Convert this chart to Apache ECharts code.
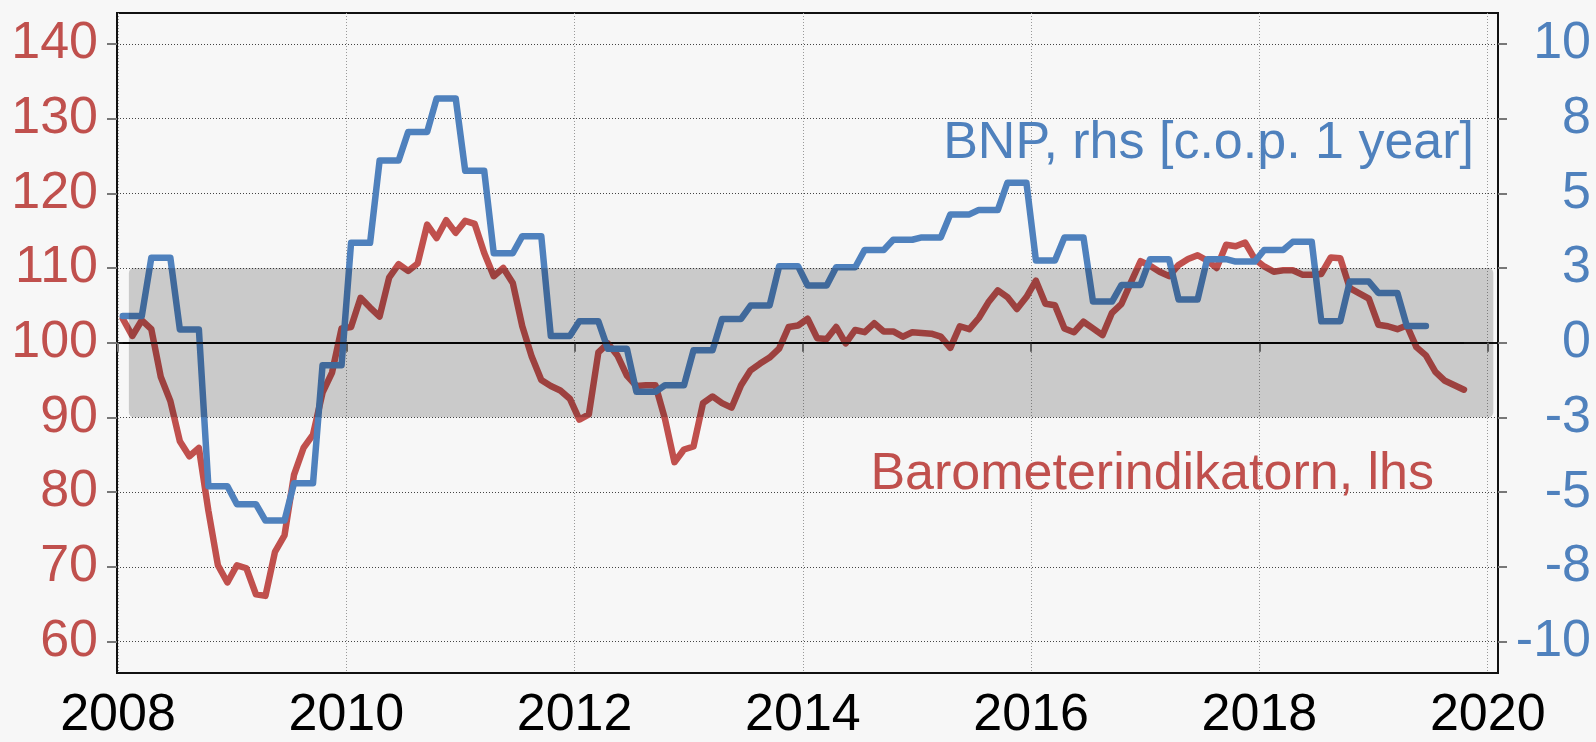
<!DOCTYPE html>
<html>
<head>
<meta charset="utf-8">
<title>Barometerindikatorn och BNP</title>
<script src="https://cdn.jsdelivr.net/npm/echarts@6/dist/echarts.min.js"></script>
<style>
  html, body { margin: 0; padding: 0; background: #f7f7f7; }
  #chart { width: 1596px; height: 742px; }
</style>
</head>
<body>
<div id="chart"></div>
<script>
// monthly observations, Jan 2008 onwards (plotted mid-month on a decimal-year axis)
var firstYear = 2008;

// Barometerindikatorn, lhs (Jan 2008 - Oct 2019)
var barometer = [
  103.2, 100.9, 103.0, 101.8, 95.4, 92.2, 86.8, 84.8, 85.9, 77.5, 70.2, 67.9,
  70.2, 69.8, 66.3, 66.1, 72.0, 74.2, 82.3, 85.9, 87.7, 93.3, 96.0, 101.9,
  102.1, 106.0, 104.7, 103.5, 108.7, 110.5, 109.6, 110.6, 115.8, 114.0, 116.4, 114.7,
  116.3, 115.9, 112.0, 108.9, 110.0, 108.0, 102.2, 98.1, 95.0, 94.2, 93.6, 92.5,
  89.7, 90.4, 98.7, 99.9, 98.3, 95.6, 94.2, 94.3, 94.3, 89.8, 84.0, 85.7,
  86.1, 91.9, 92.8, 91.9, 91.3, 94.3, 96.3, 97.2, 98.0, 99.2, 102.1, 102.3,
  103.2, 100.6, 100.5, 102.1, 99.9, 101.7, 101.4, 102.6, 101.5, 101.5, 100.8, 101.4,
  101.3, 101.2, 100.8, 99.3, 102.2, 101.8, 103.3, 105.4, 107.0, 106.1, 104.5, 106.1,
  108.3, 105.2, 105.0, 101.9, 101.4, 102.8, 101.9, 101.0, 104.0, 105.2, 108.1, 110.9,
  110.3, 109.5, 108.9, 110.4, 111.2, 111.7, 111.0, 110.0, 113.1, 112.9, 113.4, 111.2,
  110.2, 109.5, 109.7, 109.7, 109.1, 109.1, 109.2, 111.4, 111.3, 107.3, 106.6, 105.9,
  102.4, 102.2, 101.8, 102.3, 99.4, 98.3, 96.1, 94.9, 94.3, 93.7
];

// BNP, rhs [c.o.p. 1 year] - quarterly figure shown on each month (Jan 2008 - Jun 2019)
var bnp = [
  0.9, 0.9, 0.9, 2.85, 2.85, 2.85, 0.45, 0.45, 0.45, -4.8, -4.8, -4.8,
  -5.4, -5.4, -5.4, -5.95, -5.95, -5.95, -4.7, -4.7, -4.7, -0.75, -0.75, -0.75,
  3.35, 3.35, 3.35, 6.1, 6.1, 6.1, 7.06, 7.06, 7.06, 8.18, 8.18, 8.18,
  5.76, 5.76, 5.76, 3.0, 3.0, 3.0, 3.57, 3.57, 3.57, 0.23, 0.23, 0.23,
  0.72, 0.72, 0.72, -0.2, -0.2, -0.2, -1.64, -1.64, -1.64, -1.42, -1.42, -1.42,
  -0.25, -0.25, -0.25, 0.8, 0.8, 0.8, 1.25, 1.25, 1.25, 2.56, 2.56, 2.56,
  1.92, 1.92, 1.92, 2.53, 2.53, 2.53, 3.11, 3.11, 3.11, 3.45, 3.45, 3.45,
  3.53, 3.53, 3.53, 4.3, 4.3, 4.3, 4.45, 4.45, 4.45, 5.36, 5.36, 5.36,
  2.76, 2.76, 2.76, 3.53, 3.53, 3.53, 1.38, 1.38, 1.38, 1.94, 1.94, 1.94,
  2.8, 2.8, 2.8, 1.45, 1.45, 1.45, 2.8, 2.8, 2.8, 2.72, 2.72, 2.72,
  3.11, 3.11, 3.11, 3.38, 3.38, 3.38, 0.72, 0.72, 0.72, 2.05, 2.05, 2.05,
  1.67, 1.67, 1.67, 0.56, 0.56, 0.56
];

var yearTicks = [2008, 2010, 2012, 2014, 2016, 2018, 2020];
var leftTicks = [60, 70, 80, 90, 100, 110, 120, 130, 140];
var rightTicks = [-10, -7.5, -5, -2.5, 0, 2.5, 5, 7.5, 10];
var bandRange = [2008.095, 2020.049];
var bandLevels = [90, 110];
var refLevel = 100;

var RED = '#C0504D';
var BLUE = '#4F81BD';
var FONT = '"Liberation Sans", Arial, sans-serif';

// month i (0 = Jan 2008) -> mid-month position in years
function monthPos(i) {
  return firstYear + (i + 0.5) / 12;
}

var baroData = barometer.map(function (v, i) { return [monthPos(i), v]; });
var bnpData = bnp.map(function (v, i) { return [monthPos(i), v]; });

var myChart = echarts.init(document.getElementById('chart'));
var option = {
  animation: false,
  backgroundColor: '#f7f7f7',
  grid: {
    left: 117, right: 98, top: 13, bottom: 66,
    show: true, borderColor: '#111', borderWidth: 2
  },
  xAxis: {
    type: 'value',
    min: 2007.991, max: 2020.09,
    axisLine: { lineStyle: { color: '#111', width: 2 } },
    axisTick: { length: 9, lineStyle: { color: '#777', width: 2 }, customValues: yearTicks },
    axisLabel: {
      customValues: yearTicks,
      formatter: function (v) { return String(Math.round(v)); },
      color: '#000', fontSize: 52, fontFamily: FONT, margin: 17
    },
    splitLine: { show: true, lineStyle: { color: '#999', type: [1, 2], width: 1 } }
  },
  yAxis: [{
    type: 'value',
    position: 'left',
    min: 55.78, max: 144.13,
    axisLine: { show: true, lineStyle: { color: '#111', width: 2 } },
    axisTick: { show: true, length: 10, lineStyle: { color: '#777', width: 2 }, customValues: leftTicks },
    axisLabel: { customValues: leftTicks, color: RED, fontSize: 52, fontFamily: FONT, margin: 19 },
    splitLine: { show: true, lineStyle: { color: '#444', type: [1, 2], width: 1 } }
  }, {
    type: 'value',
    position: 'right',
    min: -11.05, max: 11.04,
    axisLine: { show: true, lineStyle: { color: '#111', width: 2 } },
    axisTick: { show: true, length: 9, lineStyle: { color: '#777', width: 2 }, customValues: rightTicks },
    axisLabel: {
      customValues: rightTicks,
      formatter: function (v) { var r = Math.round(Math.abs(v)); return String(v < 0 ? -r : r); },
      color: BLUE, fontSize: 52, fontFamily: FONT, margin: 93, align: 'right'
    },
    splitLine: { show: false }
  }],
  series: [{
    name: 'Barometerindikatorn, lhs',
    type: 'line',
    yAxisIndex: 0,
    data: baroData,
    showSymbol: false,
    z: 3,
    lineStyle: { color: RED, width: 6.5, join: 'round', cap: 'round' },
    markLine: {
      silent: true, symbol: 'none', label: { show: false },
      lineStyle: { color: '#000', width: 1.5, type: 'solid' },
      data: [[{ coord: [monthPos(0), refLevel] }, { coord: [monthPos(barometer.length - 1), refLevel] }]]
    }
  }, {
    name: 'BNP, rhs [c.o.p. 1 year]',
    type: 'line',
    yAxisIndex: 1,
    data: bnpData,
    showSymbol: false,
    z: 4,
    lineStyle: { color: BLUE, width: 6.5, join: 'round', cap: 'round' }
  }, {
    name: 'band',
    type: 'custom',
    yAxisIndex: 0,
    z: 10,
    silent: true,
    data: [[bandRange[0], bandLevels[1], bandRange[1], bandLevels[0]]],
    renderItem: function (params, api) {
      var p0 = api.coord([api.value(0), api.value(1)]);
      var p1 = api.coord([api.value(2), api.value(3)]);
      return {
        type: 'rect',
        shape: { x: p0[0], y: p0[1], width: p1[0] - p0[0], height: p1[1] - p0[1], r: 5 },
        style: { fill: 'rgba(0,0,0,0.18)' }
      };
    }
  }],
  graphic: [{
    type: 'text', z: 20,
    style: {
      text: 'BNP, rhs [c.o.p. 1 year]', x: 1474, y: 144,
      fill: BLUE, font: '52px ' + FONT,
      align: 'right', verticalAlign: 'middle', textAlign: 'right', textVerticalAlign: 'middle'
    }
  }, {
    type: 'text', z: 20,
    style: {
      text: 'Barometerindikatorn, lhs', x: 1434, y: 475,
      fill: RED, font: '52px ' + FONT,
      align: 'right', verticalAlign: 'middle', textAlign: 'right', textVerticalAlign: 'middle'
    }
  }]
};
myChart.setOption(option);
</script>
</body>
</html>
